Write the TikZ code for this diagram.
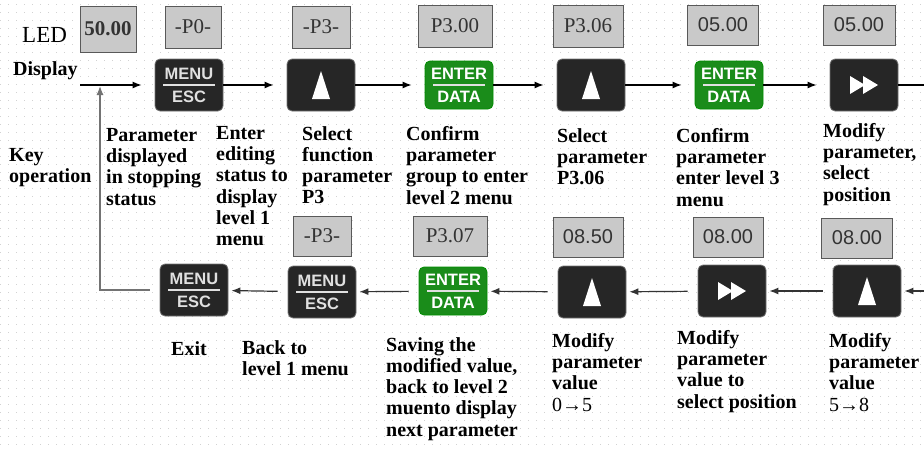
\documentclass[tikz,border=0pt]{standalone}
\usepackage{fontspec}
\setmainfont{Liberation Serif}
\newfontfamily\keyfont{Liberation Sans}
\usetikzlibrary{arrows.meta}
\definecolor{keygray}{RGB}{38,38,38}
\definecolor{keygreen}{RGB}{26,140,26}
\definecolor{ledgray}{RGB}{201,201,201}
\definecolor{dotgray}{RGB}{210,210,210}

\begin{document}
\begin{tikzpicture}[x=1pt, y=-1pt,
	ledbox/.style={draw=black!65, fill=ledgray, line width=1pt, minimum height=42pt, inner sep=0pt, text=black!80, font=\fontsize{21}{21}\selectfont},
	ledsans/.style={ledbox, font=\keyfont\fontsize{20}{20}\selectfont},
	keybox/.style={draw=black!55, fill=keygray, rounded corners=5pt, minimum width=68pt, minimum height=52pt, inner sep=0pt, line width=0.8pt, text=black!12, align=center, font=\keyfont\bfseries\fontsize{16.5}{23}\selectfont},
	menukey/.style={keybox, path picture={\draw[black!12, sharp corners, line width=1.5pt] ([xshift=-26pt]path picture bounding box.center) -- ++(52pt,0);}},
	enterkey/.style={menukey, fill=keygreen, draw=green!55!black, minimum height=48pt, text=white},
	upkey/.style={keybox, path picture={\fill[white, sharp corners] ([xshift=-9pt,yshift=-14pt]path picture bounding box.center) -- ++(18pt,0) -- ++(-9pt,28pt) -- cycle;}},
	ffkey/.style={keybox, path picture={
		\fill[white, sharp corners] ([xshift=-14pt,yshift=-9pt]path picture bounding box.center) -- ++(0,18pt) -- ++(15pt,-9pt) -- cycle;
		\fill[white, sharp corners] ([xshift=-1pt,yshift=-9pt]path picture bounding box.center) -- ++(0,18pt) -- ++(15pt,-9pt) -- cycle;}},
	desc/.style={anchor=north west, inner sep=0pt, align=left, font=\bfseries\fontsize{20}{21.3}\selectfont},
	flow/.style={-{Latex[length=9pt,width=7pt]}, line width=1.2pt, shorten >=13pt},
	flowback/.style={-{Latex[length=9pt,width=7pt]}, line width=1.2pt, draw=black!80, shorten <=10pt, shorten >=3pt},
	loopback/.style={-{Latex[length=9pt,width=7pt]}, line width=1.2pt, draw=black!55, shorten <=10pt, shorten >=1pt}]
	\useasboundingbox (0,0) rectangle (924,448);
	% dotted background
	\foreach \y in {4,12,...,444}
		\draw[dotgray, line width=1pt, dash pattern=on 1pt off 7pt] (0,\y) -- (924,\y);

	% Row labels:
	\node[anchor=north west, inner sep=0pt, font=\fontsize{23}{23}\selectfont] (led) at (22,27) {LED};
	\node[anchor=north west, inner sep=0pt, font=\bfseries\fontsize{20}{20}\selectfont] (display) at (13,61) {Display};
	\node[desc] (keyop) at (9,148) {Key\\operation};

	% LED display, upper row:
	\node[ledbox, minimum width=56pt, minimum height=46pt, font=\bfseries\fontsize{21}{21}\selectfont] (d0) at (108,29) {50.00};
	\node[ledbox, minimum width=56pt] (d1) at (193,27) {-P0-};
	\node[ledbox, minimum width=58pt] (d2) at (321,27) {-P3-};
	\node[ledbox, minimum width=74pt] (d3) at (455,26) {P3.00};
	\node[ledbox, minimum width=70pt] (d4) at (588,26) {P3.06};
	\node[ledsans, minimum width=71pt, minimum height=40pt] (d5) at (723,25) {05.00};
	\node[ledsans, minimum width=72pt, minimum height=40pt] (d6) at (859,25) {05.00};

	% Keys, upper row:
	\node[menukey] (k1) at (189,85) {MENU\\ESC};
	\node[upkey] (k2) at (321,85) {};
	\node[enterkey] (k3) at (459,85) {ENTER\\DATA};
	\node[upkey] (k4) at (591,85) {};
	\node[enterkey] (k5) at (729,85) {ENTER\\DATA};
	\node[ffkey] (k6) at (864,85) {};

	\node[desc] (t1) at (106,128) {Parameter\\displayed\\in stopping\\status};
	\node[desc] (t2) at (216,126) {Enter\\editing\\status to\\display\\level 1\\menu};
	\node[desc] (t3) at (302,126) {Select\\function\\parameter\\P3};
	\node[desc] (t4) at (406,126) {Confirm\\parameter\\group to enter\\level 2 menu};
	\node[desc] (t5) at (557,128) {Select\\parameter\\P3.06};
	\node[desc] (t6) at (676,128) {Confirm\\parameter\\enter level 3\\menu};
	\node[desc] (t7) at (823,123) {Modify\\parameter,\\select\\position};

	% LED display, lower row:
	\node[ledbox, minimum width=58pt, minimum height=40pt] (e1) at (322,236) {-P3-};
	\node[ledbox, minimum width=74pt, minimum height=40pt] (e2) at (450,236) {P3.07};
	\node[ledsans, minimum width=70pt, minimum height=40pt] (e3) at (588,237) {08.50};
	\node[ledsans, minimum width=70pt, minimum height=40pt] (e4) at (728,237) {08.00};
	\node[ledsans, minimum width=71pt, minimum height=40pt] (e5) at (857,238) {08.00};

	% Keys, lower row:
	\node[menukey] (m1) at (194,290) {MENU\\ESC};
	\node[menukey] (m2) at (322,292) {MENU\\ESC};
	\node[enterkey] (m3) at (453,291) {ENTER\\DATA};
	\node[upkey] (m4) at (592,292) {};
	\node[ffkey] (m5) at (732,291) {};
	\node[upkey] (m6) at (867,291) {};

	\node[desc] (b1) at (171,341) {Exit};
	\node[desc] (b2) at (242,340) {Back to\\level 1 menu};
	\node[desc] (b3) at (386,337) {Saving the\\modified value,\\back to level 2\\muento display\\next parameter};
	\node[desc] (b4) at (552,333) {Modify\\parameter\\value\\{\mdseries 0→5}};
	\node[desc] (b5) at (677,330) {Modify\\parameter\\value to\\select position};
	\node[desc] (b6) at (829,333) {Modify\\parameter\\value\\{\mdseries 5→8}};

	% Wires:
	\coordinate (in) at (80,85);
	\coordinate (jn) at (100,85);
	\coordinate (outR) at (924,85);
	\coordinate (inR) at (924,291);
	\draw[flow] (in) -- (k1.west);
	\draw[flow] (k1) -- (k2);
	\draw[flow] (k2) -- (k3);
	\draw[flow] (k3) -- (k4);
	\draw[flow] (k4) -- (k5);
	\draw[flow] (k5) -- (k6);
	\draw[line width=1.2pt] (k6) -- (outR);
	\draw[flowback, shorten <=0pt] (inR) -- (m6);
	\draw[flowback] (m6) -- (m5);
	\draw[flowback] (m5) -- (m4);
	\draw[flowback] (m4) -- (m3);
	\draw[flowback] (m3) -- (m2);
	\draw[flowback] (m2) -- (m1);
	\draw[loopback] (m1.west) -| (jn);
\end{tikzpicture}
\end{document}
